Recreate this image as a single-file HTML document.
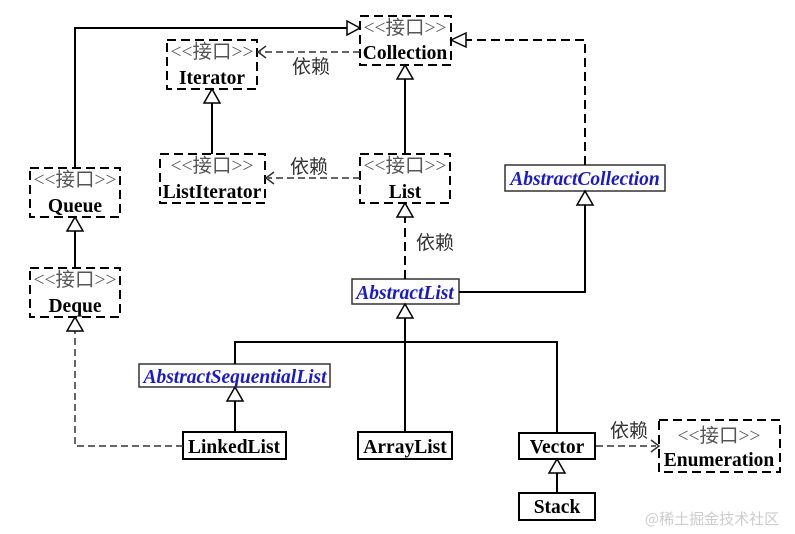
<!DOCTYPE html>
<html><head><meta charset="utf-8"><style>html,body{margin:0;padding:0;background:#fff}svg{display:block}</style></head><body>
<svg width="795" height="534" viewBox="0 0 795 534" xmlns="http://www.w3.org/2000/svg" font-family="'Liberation Serif','Noto Serif CJK SC',serif">
<g fill="none" stroke="#000" stroke-width="2">
<g stroke-dasharray="9,5">
<rect x="360" y="16" width="91" height="49"/>
<rect x="167" y="40" width="90" height="49"/>
<rect x="160" y="154" width="105" height="49"/>
<rect x="360" y="154" width="90" height="49"/>
<rect x="30" y="168" width="90" height="49"/>
<rect x="30" y="268" width="90" height="49"/>
<rect x="659" y="420" width="121" height="52"/>
</g>
<rect x="183" y="432" width="103" height="27"/>
<rect x="358" y="432" width="94" height="27"/>
<rect x="519" y="433" width="76" height="26"/>
<rect x="519" y="493" width="76" height="27"/>
</g>
<g fill="#fff" stroke="#333" stroke-width="1.5">
<rect x="352" y="279" width="107" height="25"/>
<rect x="505" y="165" width="160" height="26"/>
<rect x="139" y="364" width="191" height="23"/>
</g>
<g fill="none" stroke="#000" stroke-width="2">
<polyline points="75,168 75,28 347,28"/>
<line x1="405" y1="154" x2="405" y2="79"/>
<line x1="212" y1="154" x2="212" y2="103"/>
<line x1="75" y1="268" x2="75" y2="231"/>
<polyline points="459,292 585,292 585,205"/>
<line x1="405" y1="432" x2="405" y2="318"/>
<polyline points="235,364 235,342 557,342 557,433"/>
<line x1="235" y1="432" x2="235" y2="401"/>
<line x1="557" y1="493" x2="557" y2="473"/>
</g>
<g fill="none" stroke="#333" stroke-width="1.5" stroke-dasharray="7,4">
<line x1="360" y1="52" x2="260" y2="52"/>
<line x1="360" y1="178" x2="268" y2="178"/>
<polyline points="183,446 75,446 75,331"/>
<line x1="596" y1="446" x2="656" y2="446"/>
</g>
<g fill="none" stroke="#000" stroke-width="2" stroke-dasharray="9,5">
<polyline points="585,165 585,40 466,40"/>
<line x1="405" y1="279" x2="405" y2="217"/>
</g>
<g fill="#fff" stroke="#000" stroke-width="1.5">
<polygon points="360,28 347,21 347,35"/>
<polygon points="451,40 466,33 466,47"/>
<polygon points="405,65 397,79 413,79"/>
<polygon points="212,89 204,103 220,103"/>
<polygon points="405,203 397,217 413,217"/>
<polygon points="585,191 577,205 593,205"/>
<polygon points="75,217 67,231 83,231"/>
<polygon points="75,317 67,331 83,331"/>
<polygon points="405,304 397,318 413,318"/>
<polygon points="235,387 227,401 243,401"/>
<polygon points="557,459 549,473 565,473"/>
</g>
<g fill="none" stroke="#333" stroke-width="1.5">
<polyline points="266,46 258,52 266,58"/>
<polyline points="274,172 266,178 274,184"/>
<polyline points="651,440 659,446 651,452"/>
</g>
<g font-size="19.5" fill="#555" text-anchor="middle" font-family="'Liberation Serif','Noto Sans CJK SC',sans-serif">
<text x="405" y="34">&lt;&lt;接口&gt;&gt;</text>
<text x="212" y="58">&lt;&lt;接口&gt;&gt;</text>
<text x="212" y="172">&lt;&lt;接口&gt;&gt;</text>
<text x="405" y="172">&lt;&lt;接口&gt;&gt;</text>
<text x="75" y="186">&lt;&lt;接口&gt;&gt;</text>
<text x="75" y="286">&lt;&lt;接口&gt;&gt;</text>
<text x="719" y="442">&lt;&lt;接口&gt;&gt;</text>
</g>
<g font-size="19" fill="#333" font-family="'Noto Sans CJK SC',sans-serif">
<text x="292" y="73">依赖</text>
<text x="290" y="173">依赖</text>
<text x="416" y="249">依赖</text>
<text x="610" y="437">依赖</text>
</g>
<g font-size="19.5" font-weight="bold" fill="#000" text-anchor="middle">
<text x="405" y="59">Collection</text>
<text x="212" y="84">Iterator</text>
<text x="212" y="198">ListIterator</text>
<text x="405" y="198">List</text>
<text x="75" y="212">Queue</text>
<text x="75" y="312">Deque</text>
<text x="719" y="466">Enumeration</text>
<text x="234" y="453">LinkedList</text>
<text x="405" y="453">ArrayList</text>
<text x="557" y="453">Vector</text>
<text x="557" y="513">Stack</text>
</g>
<g font-size="19.5" font-weight="bold" font-style="italic" fill="#1a1acc" text-anchor="middle">
<text x="405" y="299">AbstractList</text>
<text x="585" y="185">AbstractCollection</text>
<text x="235" y="383">AbstractSequentialList</text>
</g>
<text x="712" y="524" font-size="15" fill="#ccc" text-anchor="middle" font-family="'Noto Sans CJK SC',sans-serif">@稀土掘金技术社区</text>
</svg>
</body></html>
